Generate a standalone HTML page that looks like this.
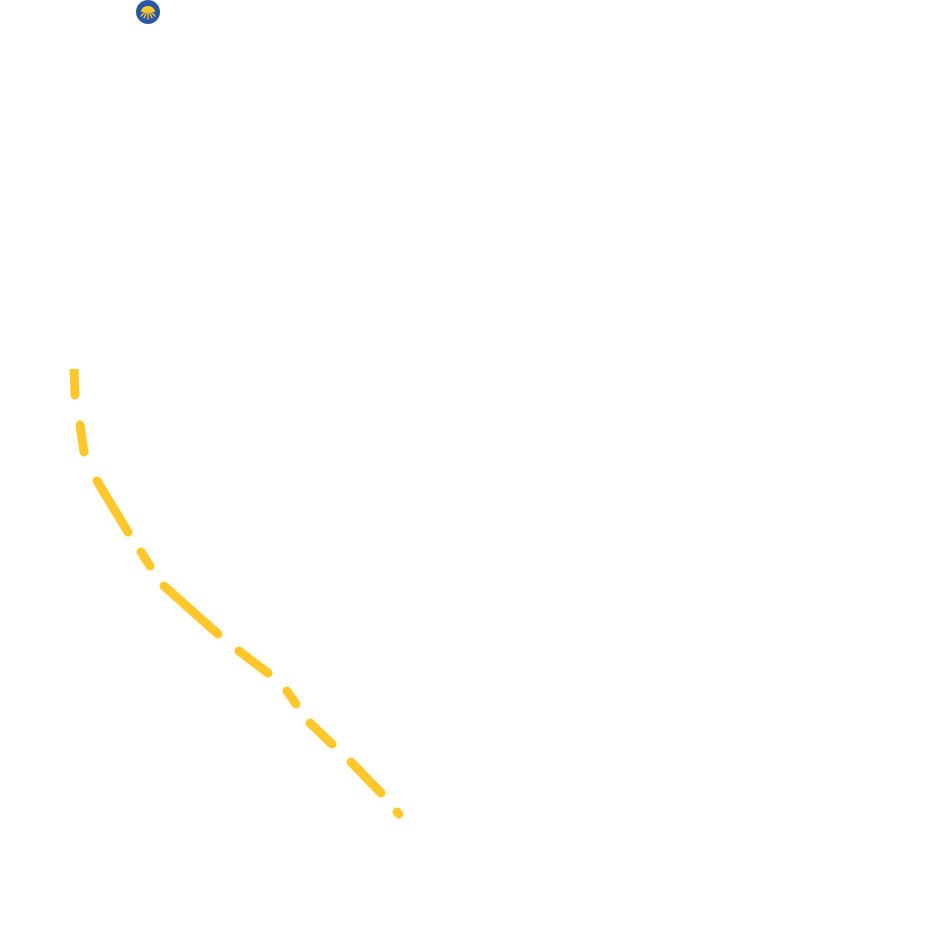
<!DOCTYPE html>
<html><head><meta charset="utf-8"><style>html,body{margin:0;padding:0;background:#fff;width:950px;height:946px;overflow:hidden}</style></head>
<body>
<svg width="950" height="946" viewBox="0 0 950 946" xmlns="http://www.w3.org/2000/svg">
<circle cx="148" cy="12" r="12" fill="#2b58a6"/>
<path d="M141 12 A7 6 0 0 1 155 12 Z" fill="#ffc72c"/>
<g stroke="#ffc72c" stroke-width="1.3" stroke-linecap="round">
<line x1="148" y1="9" x2="141" y2="16"/>
<line x1="148" y1="9" x2="144" y2="18"/>
<line x1="148" y1="9" x2="148" y2="19"/>
<line x1="148" y1="9" x2="152" y2="18"/>
<line x1="148" y1="9" x2="155" y2="16"/>
</g>
<g stroke="#ffc72c" stroke-width="9" stroke-linecap="round" fill="none">
<line x1="74" y1="369" x2="75" y2="394" stroke-linecap="butt"/>
<line x1="75" y1="394" x2="75" y2="395"/>
<line x1="80" y1="425" x2="84" y2="452"/>
<line x1="97" y1="481" x2="128" y2="532"/>
<line x1="141" y1="552" x2="150" y2="566"/>
<line x1="164" y1="586" x2="218" y2="634"/>
<line x1="239" y1="651" x2="268" y2="673"/>
<line x1="287" y1="691" x2="296" y2="704"/>
<line x1="310" y1="723" x2="332" y2="744"/>
<line x1="351" y1="762" x2="381" y2="793"/>
<line x1="397" y1="812" x2="399" y2="814"/>
</g>
</svg>
</body></html>
